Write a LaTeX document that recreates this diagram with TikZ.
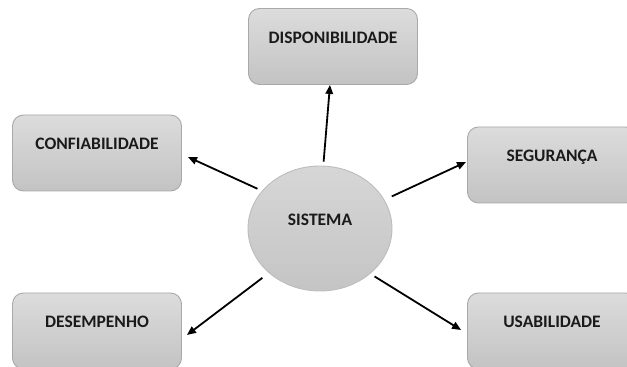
\documentclass[tikz,border=0pt]{standalone}
\usepackage{fontspec}
\setmainfont{Carlito}
\usetikzlibrary{arrows.meta, shapes.geometric}
\definecolor{boxtop}{HTML}{DCDCDC}
\definecolor{boxbottom}{HTML}{C3C3C3}
\definecolor{boxborder}{HTML}{A9A9A9}
\definecolor{hubfill}{HTML}{CFCFCF}
\definecolor{hubborder}{HTML}{BDBDBD}
\definecolor{textdark}{HTML}{1A1A1A}

\begin{document}
\begin{tikzpicture}[
    x=1pt, y=1pt,
    font=\bfseries\fontsize{17.5}{20}\selectfont,
    attrbox/.style={
        draw=boxborder, line width=0.9pt, rounded corners=11pt,
        top color=boxtop, bottom color=boxbottom,
        minimum width=169pt, inner sep=0pt,
        text height=35pt, text depth=41pt, text=textdark
    },
    hub/.style={
        ellipse, draw=hubborder, line width=0.9pt,
        top color=hubfill!85!white, bottom color=hubfill!95!black,
        minimum width=144pt, minimum height=125pt, inner sep=0pt,
        text height=6pt, text depth=11pt, text=textdark
    },
    arrstyle/.style={-{Triangle[length=9pt,width=7.5pt]}, line width=1.8pt, black},
]
\useasboundingbox (0,0) rectangle (627,367);
\clip (0,0) rectangle (627,367);

% ============ centre ============
\node[hub] (sis) at (320,138.5) {SISTEMA};

% ============ attributes ============
\node[attrbox] (disp) at (333,320.5) {DISPONIBILIDADE};
\node[attrbox] (conf) at (97,214) {CONFIABILIDADE};
\node[attrbox] (seg) at (552,202) {SEGURAN\c{C}A};
\node[attrbox] (des) at (97,36) {DESEMPENHO};
\node[attrbox] (usa) at (552,36) {USABILIDADE};

% ============ arrows ============
\draw[arrstyle, shorten <=4pt] (sis.87) -- ([xshift=-3pt]disp.south);
\draw[arrstyle, shorten <=5pt] (sis.147) -- ([xshift=6pt,yshift=-4pt]conf.east);
\draw[arrstyle, shorten <=8pt] (sis.24) -- ([xshift=-1pt,yshift=3pt]seg.west);
\draw[arrstyle, shorten <=8pt] (sis.221) -- ([xshift=5pt,yshift=-4pt]des.east);
\draw[arrstyle, shorten <=5pt] (sis.-42) -- ([xshift=-6pt,yshift=1pt]usa.west);

\end{tikzpicture}
\end{document}
